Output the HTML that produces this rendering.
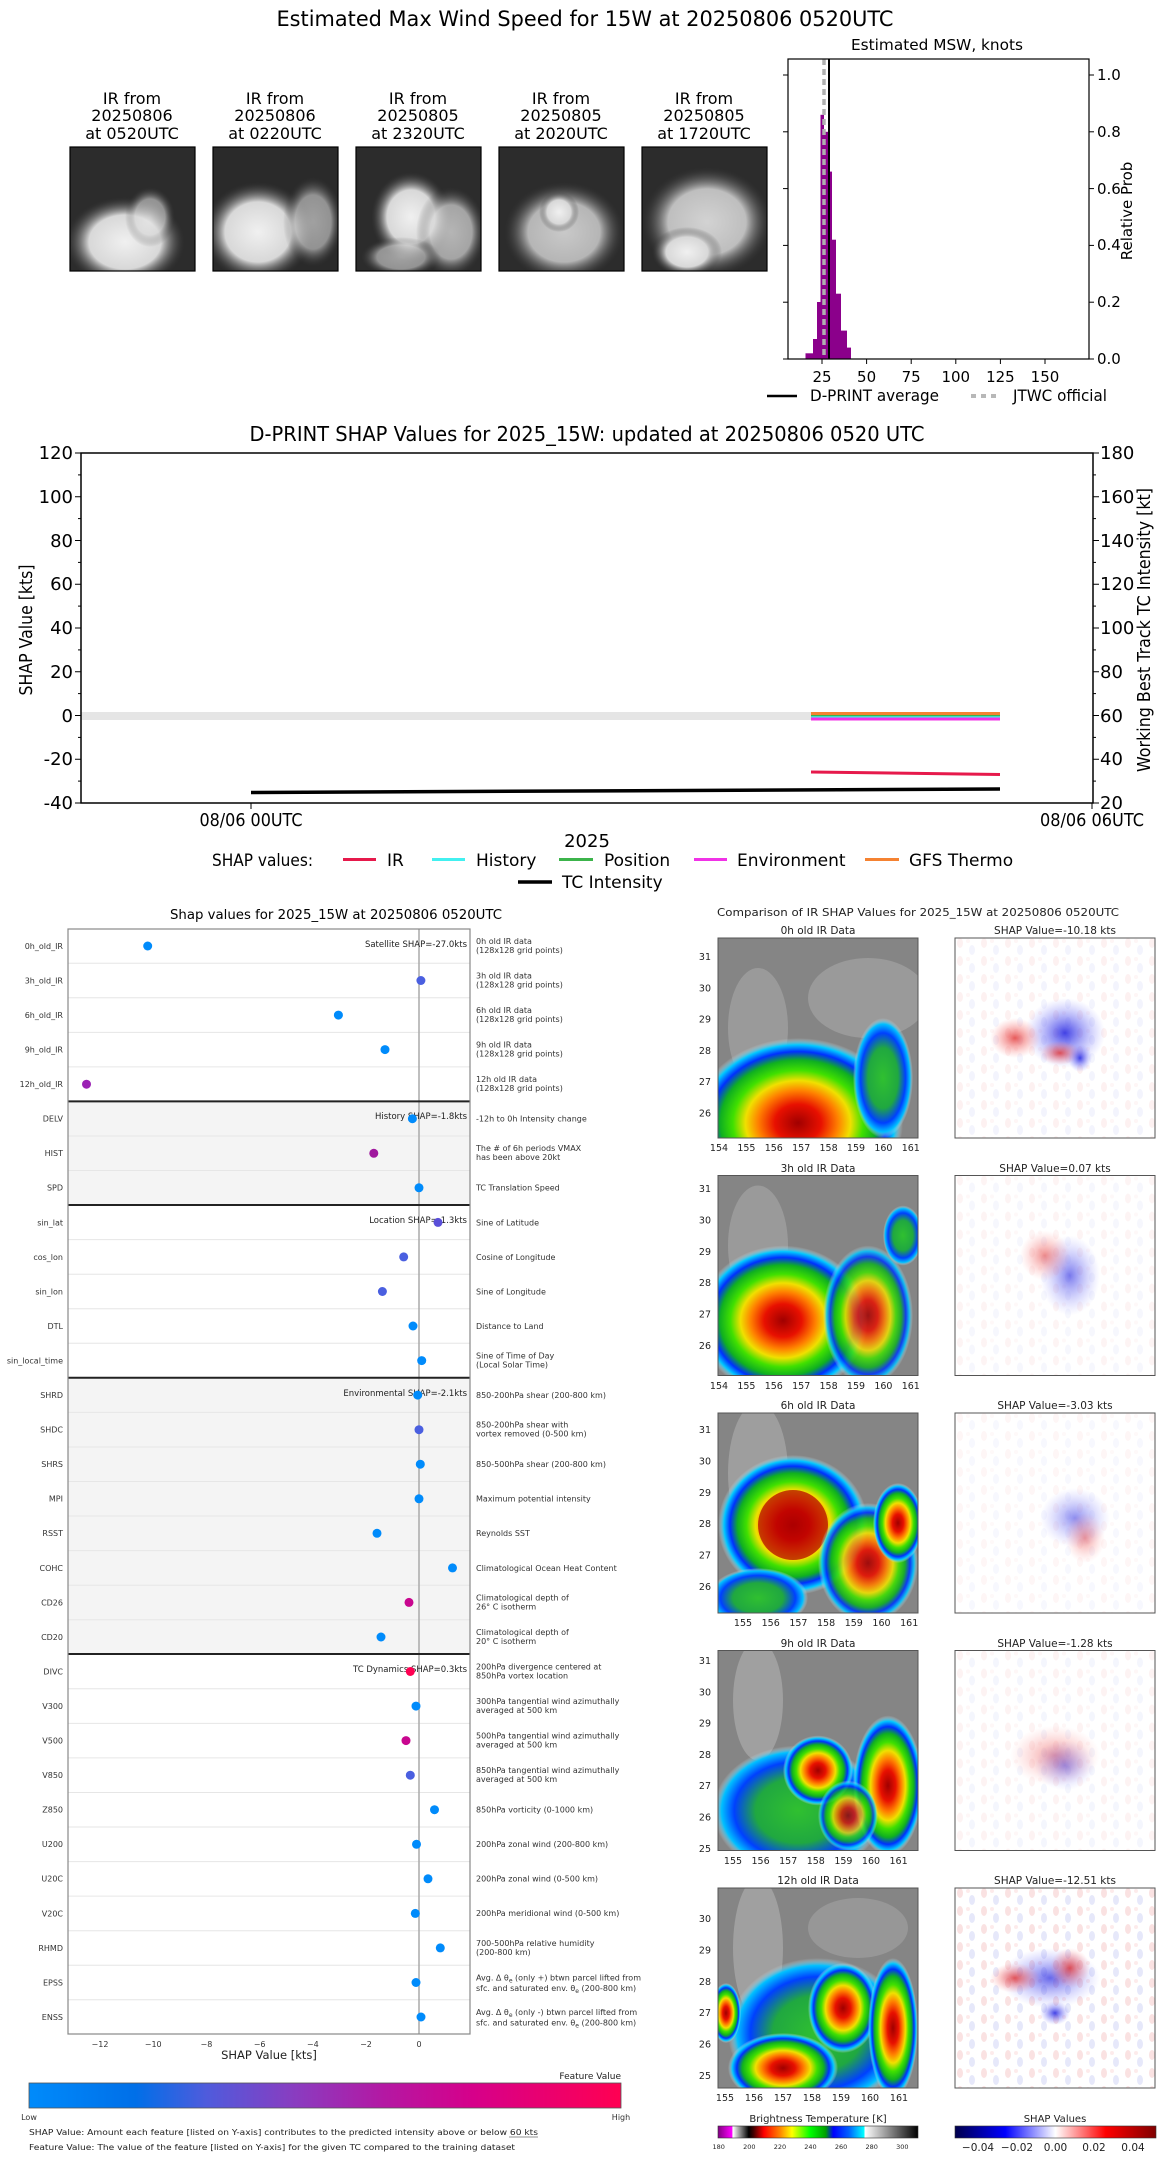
<!DOCTYPE html>
<html><head><meta charset="utf-8"><style>
html,body{margin:0;padding:0;background:#fff;}
svg{display:block;font-family:"DejaVu Sans","Liberation Sans",sans-serif;}
</style></head><body>
<svg width="1168" height="2158" viewBox="0 0 1168 2158" xmlns="http://www.w3.org/2000/svg">
<defs>
<radialGradient id="cl" cx="50%" cy="50%" r="50%">
<stop offset="0" stop-color="#a00000"/><stop offset="0.22" stop-color="#e81000"/><stop offset="0.38" stop-color="#ff8000"/><stop offset="0.5" stop-color="#f0e000"/><stop offset="0.62" stop-color="#40e000"/><stop offset="0.74" stop-color="#10b020"/><stop offset="0.84" stop-color="#0030ff"/><stop offset="0.92" stop-color="#00c8ff"/><stop offset="1" stop-color="#e0e0e0" stop-opacity="0"/>
</radialGradient>
<radialGradient id="clg" cx="50%" cy="50%" r="50%">
<stop offset="0" stop-color="#30c030"/><stop offset="0.5" stop-color="#20a840"/><stop offset="0.75" stop-color="#0040ff"/><stop offset="0.9" stop-color="#00c0ff"/><stop offset="1" stop-color="#e0e0e0" stop-opacity="0"/>
</radialGradient>
<radialGradient id="wt" cx="50%" cy="50%" r="50%">
<stop offset="0" stop-color="#f0f0f0"/><stop offset="0.6" stop-color="#d8d8d8"/><stop offset="1" stop-color="#3a3a3a" stop-opacity="0"/>
</radialGradient>
<radialGradient id="rd" cx="50%" cy="50%" r="50%"><stop offset="0" stop-color="#e03030" stop-opacity="0.8"/><stop offset="1" stop-color="#ff8080" stop-opacity="0"/></radialGradient>
<radialGradient id="bl" cx="50%" cy="50%" r="50%"><stop offset="0" stop-color="#2020e0" stop-opacity="0.85"/><stop offset="1" stop-color="#8080ff" stop-opacity="0"/></radialGradient>
<pattern id="nz" width="24" height="18" patternUnits="userSpaceOnUse">
<rect width="24" height="18" fill="#fff"/>
<ellipse cx="5" cy="5" rx="3" ry="5" fill="#f6c8c8"/><ellipse cx="17" cy="12" rx="3" ry="5" fill="#d0d4f6"/><ellipse cx="13" cy="3" rx="2" ry="2" fill="#fadada"/>
</pattern>
<linearGradient id="fv" x1="0" x2="1" y1="0" y2="0">
<stop offset="0" stop-color="#008bfb"/><stop offset="0.18" stop-color="#006fe8"/><stop offset="0.3" stop-color="#4f5bdc"/><stop offset="0.45" stop-color="#8a3cc0"/><stop offset="0.6" stop-color="#b418a3"/><stop offset="0.75" stop-color="#d6008a"/><stop offset="1" stop-color="#ff0052"/>
</linearGradient>
<linearGradient id="bt" x1="0" x2="1" y1="0" y2="0">
<stop offset="0" stop-color="#800080"/><stop offset="0.069" stop-color="#ff00ff"/><stop offset="0.075" stop-color="#ffffff"/><stop offset="0.154" stop-color="#000000"/><stop offset="0.177" stop-color="#400000"/><stop offset="0.23" stop-color="#ff0000"/><stop offset="0.308" stop-color="#ff8000"/><stop offset="0.37" stop-color="#ffff00"/><stop offset="0.46" stop-color="#00ff00"/><stop offset="0.538" stop-color="#00a000"/><stop offset="0.577" stop-color="#0000ff"/><stop offset="0.654" stop-color="#0060ff"/><stop offset="0.73" stop-color="#00ffff"/><stop offset="0.735" stop-color="#ffffff"/><stop offset="1" stop-color="#000000"/>
</linearGradient>
<linearGradient id="sw" x1="0" x2="1" y1="0" y2="0">
<stop offset="0" stop-color="#00004c"/><stop offset="0.25" stop-color="#0000ff"/><stop offset="0.5" stop-color="#ffffff"/><stop offset="0.75" stop-color="#ff0000"/><stop offset="1" stop-color="#800000"/>
</linearGradient>
<clipPath id="c200"><rect x="0" y="0" width="200" height="200"/></clipPath>
<clipPath id="cth"><rect x="0" y="0" width="125" height="124"/></clipPath>
</defs>

<text x="585" y="26" font-size="21" text-anchor="middle" textLength="617" lengthAdjust="spacingAndGlyphs">Estimated Max Wind Speed for 15W at 20250806 0520UTC</text>

<g font-size="16" text-anchor="middle">
<text x="132" y="104">IR from</text><text x="132" y="121">20250806</text><text x="132" y="139">at 0520UTC</text>
<text x="275" y="104">IR from</text><text x="275" y="121">20250806</text><text x="275" y="139">at 0220UTC</text>
<text x="418" y="104">IR from</text><text x="418" y="121">20250805</text><text x="418" y="139">at 2320UTC</text>
<text x="561" y="104">IR from</text><text x="561" y="121">20250805</text><text x="561" y="139">at 2020UTC</text>
<text x="704" y="104">IR from</text><text x="704" y="121">20250805</text><text x="704" y="139">at 1720UTC</text>
</g>
<g transform="translate(70,147)"><g clip-path="url(#cth)"><rect width="125" height="124" fill="#2c2c2c"/><ellipse cx="55" cy="95" rx="60" ry="45" fill="url(#wt)"/><ellipse cx="80" cy="70" rx="25" ry="30" fill="url(#wt)" opacity="0.6"/></g><rect width="125" height="124" fill="none" stroke="#000" stroke-width="1.2"/></g>
<g transform="translate(213,147)"><g clip-path="url(#cth)"><rect width="125" height="124" fill="#2a2a2a"/><ellipse cx="45" cy="85" rx="55" ry="50" fill="url(#wt)"/><ellipse cx="100" cy="75" rx="30" ry="45" fill="url(#wt)" opacity="0.6"/></g><rect width="125" height="124" fill="none" stroke="#000" stroke-width="1.2"/></g>
<g transform="translate(356,147)"><g clip-path="url(#cth)"><rect width="125" height="124" fill="#2c2c2c"/><ellipse cx="55" cy="70" rx="40" ry="45" fill="url(#wt)"/><ellipse cx="95" cy="85" rx="35" ry="45" fill="url(#wt)" opacity="0.7"/><ellipse cx="45" cy="110" rx="40" ry="20" fill="url(#wt)" opacity="0.6"/></g><rect width="125" height="124" fill="none" stroke="#000" stroke-width="1.2"/></g>
<g transform="translate(499,147)"><g clip-path="url(#cth)"><rect width="125" height="124" fill="#2c2c2c"/><ellipse cx="65" cy="85" rx="60" ry="50" fill="url(#wt)" opacity="0.8"/><ellipse cx="60" cy="65" rx="20" ry="20" fill="url(#wt)"/></g><rect width="125" height="124" fill="none" stroke="#000" stroke-width="1.2"/></g>
<g transform="translate(642,147)"><g clip-path="url(#cth)"><rect width="125" height="124" fill="#2c2c2c"/><ellipse cx="65" cy="75" rx="65" ry="55" fill="url(#wt)" opacity="0.85"/><ellipse cx="45" cy="105" rx="35" ry="25" fill="url(#wt)"/></g><rect width="125" height="124" fill="none" stroke="#000" stroke-width="1.2"/></g>

<text x="937" y="50" font-size="15" text-anchor="middle" textLength="172" lengthAdjust="spacingAndGlyphs">Estimated MSW, knots</text>
<g fill="#8b008b">
<rect x="805.5" y="353.3" width="7.5" height="5.7"/>
<rect x="813" y="339" width="4" height="20"/>
<rect x="817" y="302" width="3.5" height="57"/>
<rect x="820.5" y="114.8" width="3.5" height="244.2"/>
<rect x="824" y="131.8" width="4" height="227.2"/>
<rect x="828" y="171.6" width="4" height="187.4"/>
<rect x="832" y="239.7" width="4" height="119.3"/>
<rect x="836" y="293.7" width="5" height="65.3"/>
<rect x="841" y="330.6" width="6" height="28.4"/>
<rect x="847" y="347.6" width="4" height="11.4"/>
</g>
<line x1="824" y1="59" x2="824" y2="359" stroke="#b0b0b0" stroke-width="3.5" stroke-dasharray="6,4"/>
<line x1="829" y1="59" x2="829" y2="359" stroke="#000" stroke-width="2"/>
<rect x="788" y="59" width="301" height="300" fill="none" stroke="#000" stroke-width="1.2"/>
<g stroke="#000" stroke-width="1">
<line x1="783" y1="359" x2="788" y2="359"/><line x1="783" y1="302.2" x2="788" y2="302.2"/><line x1="783" y1="245.4" x2="788" y2="245.4"/><line x1="783" y1="188.6" x2="788" y2="188.6"/><line x1="783" y1="131.8" x2="788" y2="131.8"/><line x1="783" y1="75" x2="788" y2="75"/>
<line x1="1089" y1="359" x2="1094" y2="359"/><line x1="1089" y1="302.2" x2="1094" y2="302.2"/><line x1="1089" y1="245.4" x2="1094" y2="245.4"/><line x1="1089" y1="188.6" x2="1094" y2="188.6"/><line x1="1089" y1="131.8" x2="1094" y2="131.8"/><line x1="1089" y1="75" x2="1094" y2="75"/>
<line x1="822" y1="359" x2="822" y2="364"/><line x1="866.6" y1="359" x2="866.6" y2="364"/><line x1="911.2" y1="359" x2="911.2" y2="364"/><line x1="955.8" y1="359" x2="955.8" y2="364"/><line x1="1000.4" y1="359" x2="1000.4" y2="364"/><line x1="1045" y1="359" x2="1045" y2="364"/>
</g>
<g font-size="15">
<text x="1097" y="364">0.0</text><text x="1097" y="307">0.2</text><text x="1097" y="250">0.4</text><text x="1097" y="194">0.6</text><text x="1097" y="137">0.8</text><text x="1097" y="80">1.0</text>
</g>
<g font-size="15" text-anchor="middle">
<text x="822" y="382">25</text><text x="866.6" y="382">50</text><text x="911.2" y="382">75</text><text x="955.8" y="382">100</text><text x="1000.4" y="382">125</text><text x="1045" y="382">150</text>
</g>
<text transform="translate(1132,211) rotate(-90)" font-size="15" text-anchor="middle">Relative Prob</text>
<line x1="767" y1="396" x2="797" y2="396" stroke="#000" stroke-width="2.5"/>
<text x="810" y="401" font-size="16" textLength="129" lengthAdjust="spacingAndGlyphs">D-PRINT average</text>
<line x1="971" y1="396" x2="1001" y2="396" stroke="#b8b8b8" stroke-width="4" stroke-dasharray="5,5"/>
<text x="1013" y="401" font-size="16" textLength="94" lengthAdjust="spacingAndGlyphs">JTWC official</text>

<text x="587" y="441" font-size="20" text-anchor="middle" textLength="675" lengthAdjust="spacingAndGlyphs">D-PRINT SHAP Values for 2025_15W: updated at 20250806 0520 UTC</text>
<rect x="81" y="712" width="730" height="8" fill="#e5e5e5"/>
<line x1="811" y1="713.5" x2="1000" y2="713.5" stroke="#f58231" stroke-width="3"/>
<line x1="811" y1="716" x2="1000" y2="716" stroke="#3cb44b" stroke-width="2"/>
<line x1="811" y1="717" x2="1000" y2="717" stroke="#42f0f0" stroke-width="1.5"/>
<line x1="811" y1="719" x2="1000" y2="719" stroke="#f032e6" stroke-width="3"/>
<line x1="811" y1="772" x2="1000" y2="774.5" stroke="#e6194b" stroke-width="3"/>
<line x1="251" y1="792.5" x2="1000" y2="789" stroke="#000" stroke-width="3.5"/>
<rect x="81" y="453" width="1012" height="350" fill="none" stroke="#000" stroke-width="1.5"/>
<g stroke="#000" stroke-width="1">
<line x1="75" y1="453" x2="81" y2="453"/><line x1="75" y1="496.75" x2="81" y2="496.75"/><line x1="75" y1="540.5" x2="81" y2="540.5"/><line x1="75" y1="584.25" x2="81" y2="584.25"/><line x1="75" y1="628" x2="81" y2="628"/><line x1="75" y1="671.75" x2="81" y2="671.75"/><line x1="75" y1="715.5" x2="81" y2="715.5"/><line x1="75" y1="759.25" x2="81" y2="759.25"/><line x1="75" y1="803" x2="81" y2="803"/>
<line x1="78" y1="474.9" x2="81" y2="474.9"/><line x1="78" y1="518.6" x2="81" y2="518.6"/><line x1="78" y1="562.4" x2="81" y2="562.4"/><line x1="78" y1="606.1" x2="81" y2="606.1"/><line x1="78" y1="649.9" x2="81" y2="649.9"/><line x1="78" y1="693.6" x2="81" y2="693.6"/><line x1="78" y1="737.4" x2="81" y2="737.4"/><line x1="78" y1="781.1" x2="81" y2="781.1"/>
<line x1="1093" y1="453" x2="1099" y2="453"/><line x1="1093" y1="496.75" x2="1099" y2="496.75"/><line x1="1093" y1="540.5" x2="1099" y2="540.5"/><line x1="1093" y1="584.25" x2="1099" y2="584.25"/><line x1="1093" y1="628" x2="1099" y2="628"/><line x1="1093" y1="671.75" x2="1099" y2="671.75"/><line x1="1093" y1="715.5" x2="1099" y2="715.5"/><line x1="1093" y1="759.25" x2="1099" y2="759.25"/><line x1="1093" y1="803" x2="1099" y2="803"/>
<line x1="1093" y1="474.9" x2="1096" y2="474.9"/><line x1="1093" y1="518.6" x2="1096" y2="518.6"/><line x1="1093" y1="562.4" x2="1096" y2="562.4"/><line x1="1093" y1="606.1" x2="1096" y2="606.1"/><line x1="1093" y1="649.9" x2="1096" y2="649.9"/><line x1="1093" y1="693.6" x2="1096" y2="693.6"/><line x1="1093" y1="737.4" x2="1096" y2="737.4"/><line x1="1093" y1="781.1" x2="1096" y2="781.1"/>
<line x1="251" y1="803" x2="251" y2="809"/><line x1="1092" y1="803" x2="1092" y2="809"/>
</g>
<g font-size="18" text-anchor="end">
<text x="73" y="459">120</text><text x="73" y="503">100</text><text x="73" y="547">80</text><text x="73" y="590">60</text><text x="73" y="634">40</text><text x="73" y="678">20</text><text x="73" y="722">0</text><text x="73" y="765">-20</text><text x="73" y="809">-40</text>
</g>
<g font-size="18">
<text x="1100" y="459">180</text><text x="1100" y="503">160</text><text x="1100" y="547">140</text><text x="1100" y="590">120</text><text x="1100" y="634">100</text><text x="1100" y="678">80</text><text x="1100" y="722">60</text><text x="1100" y="765">40</text><text x="1100" y="809">20</text>
</g>
<text transform="translate(32,630) rotate(-90)" font-size="18" text-anchor="middle" textLength="131" lengthAdjust="spacingAndGlyphs">SHAP Value [kts]</text>
<text transform="translate(1150,630) rotate(-90)" font-size="18" text-anchor="middle" textLength="284" lengthAdjust="spacingAndGlyphs">Working Best Track TC Intensity [kt]</text>
<text x="251" y="826" font-size="18" text-anchor="middle" textLength="103" lengthAdjust="spacingAndGlyphs">08/06 00UTC</text>
<text x="1092" y="826" font-size="18" text-anchor="middle" textLength="104" lengthAdjust="spacingAndGlyphs">08/06 06UTC</text>
<text x="587" y="847" font-size="18" text-anchor="middle">2025</text>
<g font-size="17">
<text x="212" y="866" textLength="101" lengthAdjust="spacingAndGlyphs">SHAP values:</text>
<line x1="343" y1="859.5" x2="376" y2="859.5" stroke="#e6194b" stroke-width="3"/><text x="387" y="866">IR</text>
<line x1="432" y1="859.5" x2="465" y2="859.5" stroke="#42f0f0" stroke-width="3"/><text x="476" y="866">History</text>
<line x1="559" y1="859.5" x2="593" y2="859.5" stroke="#3cb44b" stroke-width="3"/><text x="604" y="866">Position</text>
<line x1="694" y1="859.5" x2="727" y2="859.5" stroke="#f032e6" stroke-width="3"/><text x="737" y="866">Environment</text>
<line x1="865" y1="859.5" x2="899" y2="859.5" stroke="#f58231" stroke-width="3"/><text x="909" y="866">GFS Thermo</text>
<line x1="518" y1="882" x2="552" y2="882" stroke="#000" stroke-width="3.5"/><text x="562" y="888">TC Intensity</text>
</g>

<text x="336" y="919" font-size="13" text-anchor="middle" textLength="332" lengthAdjust="spacingAndGlyphs">Shap values for 2025_15W at 20250806 0520UTC</text>
<rect x="68" y="1101.4" width="402" height="103.6" fill="#f4f4f4"/>
<rect x="68" y="1377.8" width="402" height="276.2" fill="#f4f4f4"/>
<g stroke="#e6e6e6" stroke-width="1">
<line x1="68" x2="470" y1="963.3" y2="963.3"/><line x1="68" x2="470" y1="997.8" y2="997.8"/><line x1="68" x2="470" y1="1032.4" y2="1032.4"/><line x1="68" x2="470" y1="1066.9" y2="1066.9"/>
<line x1="68" x2="470" y1="1136" y2="1136"/><line x1="68" x2="470" y1="1170.5" y2="1170.5"/>
<line x1="68" x2="470" y1="1239.6" y2="1239.6"/><line x1="68" x2="470" y1="1274.2" y2="1274.2"/><line x1="68" x2="470" y1="1308.7" y2="1308.7"/><line x1="68" x2="470" y1="1343.3" y2="1343.3"/>
<line x1="68" x2="470" y1="1412.4" y2="1412.4"/><line x1="68" x2="470" y1="1447" y2="1447"/><line x1="68" x2="470" y1="1481.5" y2="1481.5"/><line x1="68" x2="470" y1="1516" y2="1516"/><line x1="68" x2="470" y1="1550.6" y2="1550.6"/><line x1="68" x2="470" y1="1585.2" y2="1585.2"/><line x1="68" x2="470" y1="1619.7" y2="1619.7"/>
<line x1="68" x2="470" y1="1688.8" y2="1688.8"/><line x1="68" x2="470" y1="1723.4" y2="1723.4"/><line x1="68" x2="470" y1="1757.9" y2="1757.9"/><line x1="68" x2="470" y1="1792.5" y2="1792.5"/><line x1="68" x2="470" y1="1827" y2="1827"/><line x1="68" x2="470" y1="1861.6" y2="1861.6"/><line x1="68" x2="470" y1="1896.1" y2="1896.1"/><line x1="68" x2="470" y1="1930.7" y2="1930.7"/><line x1="68" x2="470" y1="1965.2" y2="1965.2"/><line x1="68" x2="470" y1="1999.8" y2="1999.8"/>
</g>
<line x1="419" y1="929" x2="419" y2="2034" stroke="#aaa" stroke-width="1.5"/>
<g stroke="#222" stroke-width="2">
<line x1="68" x2="470" y1="1101.4" y2="1101.4"/><line x1="68" x2="470" y1="1205" y2="1205"/><line x1="68" x2="470" y1="1377.8" y2="1377.8"/><line x1="68" x2="470" y1="1654" y2="1654"/>
</g>
<rect x="68" y="929" width="402" height="1105" fill="none" stroke="#888" stroke-width="1.2"/>
<g font-size="8.5" fill="#222" text-anchor="end">
<text x="467" y="947">Satellite SHAP=-27.0kts</text>
<text x="467" y="1119">History SHAP=-1.8kts</text>
<text x="467" y="1223">Location SHAP=-1.3kts</text>
<text x="467" y="1396">Environmental SHAP=-2.1kts</text>
<text x="467" y="1672">TC Dynamics SHAP=0.3kts</text>
</g>
<g>
<circle cx="147.7" cy="946" r="4.5" fill="#008bfb"/>
<circle cx="420.9" cy="980.5" r="4.5" fill="#4a5fe0"/>
<circle cx="338.4" cy="1015.1" r="4.5" fill="#008bfb"/>
<circle cx="385" cy="1049.6" r="4.5" fill="#008bfb"/>
<circle cx="86.5" cy="1084.2" r="4.5" fill="#9b22b4"/>
<circle cx="412.4" cy="1118.7" r="4.5" fill="#008bfb"/>
<circle cx="373.8" cy="1153.3" r="4.5" fill="#a0189e"/>
<circle cx="419" cy="1187.8" r="4.5" fill="#008bfb"/>
<circle cx="438" cy="1222.4" r="4.5" fill="#5a4fd9"/>
<circle cx="403.7" cy="1256.9" r="4.5" fill="#4a5fe0"/>
<circle cx="382.4" cy="1291.5" r="4.5" fill="#4a5fe0"/>
<circle cx="413" cy="1326" r="4.5" fill="#008bfb"/>
<circle cx="421.7" cy="1360.6" r="4.5" fill="#008bfb"/>
<circle cx="417.7" cy="1395.1" r="4.5" fill="#008bfb"/>
<circle cx="419" cy="1429.7" r="4.5" fill="#4a5fe0"/>
<circle cx="420.3" cy="1464.2" r="4.5" fill="#008bfb"/>
<circle cx="419" cy="1498.8" r="4.5" fill="#008bfb"/>
<circle cx="377" cy="1533.3" r="4.5" fill="#008bfb"/>
<circle cx="452.5" cy="1567.9" r="4.5" fill="#008bfb"/>
<circle cx="409" cy="1602.4" r="4.5" fill="#c8068f"/>
<circle cx="381" cy="1637" r="4.5" fill="#008bfb"/>
<circle cx="410.3" cy="1671.5" r="4.5" fill="#ff0052"/>
<circle cx="416" cy="1706.1" r="4.5" fill="#008bfb"/>
<circle cx="406" cy="1740.6" r="4.5" fill="#c8068f"/>
<circle cx="410.3" cy="1775.2" r="4.5" fill="#4a5fe0"/>
<circle cx="434.5" cy="1809.7" r="4.5" fill="#008bfb"/>
<circle cx="416.5" cy="1844.3" r="4.5" fill="#008bfb"/>
<circle cx="428" cy="1878.8" r="4.5" fill="#008bfb"/>
<circle cx="415.3" cy="1913.4" r="4.5" fill="#008bfb"/>
<circle cx="440.3" cy="1947.9" r="4.5" fill="#008bfb"/>
<circle cx="416" cy="1982.5" r="4.5" fill="#008bfb"/>
<circle cx="421" cy="2017" r="4.5" fill="#008bfb"/>
</g>
<g font-size="8" fill="#333" text-anchor="end">
<text x="63" y="949">0h_old_IR</text><text x="63" y="983.5">3h_old_IR</text><text x="63" y="1018">6h_old_IR</text><text x="63" y="1052.5">9h_old_IR</text><text x="63" y="1087">12h_old_IR</text>
<text x="63" y="1121.5">DELV</text><text x="63" y="1156">HIST</text><text x="63" y="1190.5">SPD</text>
<text x="63" y="1225.5">sin_lat</text><text x="63" y="1260">cos_lon</text><text x="63" y="1294.5">sin_lon</text><text x="63" y="1329">DTL</text><text x="63" y="1363.5">sin_local_time</text>
<text x="63" y="1398">SHRD</text><text x="63" y="1432.5">SHDC</text><text x="63" y="1467">SHRS</text><text x="63" y="1501.5">MPI</text><text x="63" y="1536">RSST</text><text x="63" y="1571">COHC</text><text x="63" y="1605.5">CD26</text><text x="63" y="1640">CD20</text>
<text x="63" y="1674.5">DIVC</text><text x="63" y="1709">V300</text><text x="63" y="1743.5">V500</text><text x="63" y="1778">V850</text><text x="63" y="1812.5">Z850</text><text x="63" y="1847">U200</text><text x="63" y="1881.5">U20C</text><text x="63" y="1916.5">V20C</text><text x="63" y="1951">RHMD</text><text x="63" y="1985.5">EPSS</text><text x="63" y="2020">ENSS</text>
</g>
<g font-size="8" fill="#333">
<text x="476" y="944">0h old IR data</text><text x="476" y="953">(128x128 grid points)</text>
<text x="476" y="978.5">3h old IR data</text><text x="476" y="987.5">(128x128 grid points)</text>
<text x="476" y="1013">6h old IR data</text><text x="476" y="1022">(128x128 grid points)</text>
<text x="476" y="1047.5">9h old IR data</text><text x="476" y="1056.5">(128x128 grid points)</text>
<text x="476" y="1082">12h old IR data</text><text x="476" y="1091">(128x128 grid points)</text>
<text x="476" y="1121.5">-12h to 0h Intensity change</text>
<text x="476" y="1151">The # of 6h periods VMAX</text><text x="476" y="1160">has been above 20kt</text>
<text x="476" y="1190.5">TC Translation Speed</text>
<text x="476" y="1225.5">Sine of Latitude</text>
<text x="476" y="1260">Cosine of Longitude</text>
<text x="476" y="1294.5">Sine of Longitude</text>
<text x="476" y="1329">Distance to Land</text>
<text x="476" y="1358.5">Sine of Time of Day</text><text x="476" y="1367.5">(Local Solar Time)</text>
<text x="476" y="1398">850-200hPa shear (200-800 km)</text>
<text x="476" y="1427.5">850-200hPa shear with</text><text x="476" y="1436.5">vortex removed (0-500 km)</text>
<text x="476" y="1467">850-500hPa shear (200-800 km)</text>
<text x="476" y="1501.5">Maximum potential intensity</text>
<text x="476" y="1536">Reynolds SST</text>
<text x="476" y="1571">Climatological Ocean Heat Content</text>
<text x="476" y="1600.5">Climatological depth of</text><text x="476" y="1609.5">26° C isotherm</text>
<text x="476" y="1635">Climatological depth of</text><text x="476" y="1644">20° C isotherm</text>
<text x="476" y="1669.5">200hPa divergence centered at</text><text x="476" y="1678.5">850hPa vortex location</text>
<text x="476" y="1704">300hPa tangential wind azimuthally</text><text x="476" y="1713">averaged at 500 km</text>
<text x="476" y="1738.5">500hPa tangential wind azimuthally</text><text x="476" y="1747.5">averaged at 500 km</text>
<text x="476" y="1773">850hPa tangential wind azimuthally</text><text x="476" y="1782">averaged at 500 km</text>
<text x="476" y="1812.5">850hPa vorticity (0-1000 km)</text>
<text x="476" y="1847">200hPa zonal wind (200-800 km)</text>
<text x="476" y="1881.5">200hPa zonal wind (0-500 km)</text>
<text x="476" y="1916">200hPa meridional wind (0-500 km)</text>
<text x="476" y="1946">700-500hPa relative humidity</text><text x="476" y="1955">(200-800 km)</text>
<text x="476" y="1980.5">Avg. Δ θ<tspan font-size="6" dy="2">e</tspan><tspan dy="-2"> (only +) btwn parcel lifted from</tspan></text><text x="476" y="1991">sfc. and saturated env. θ<tspan font-size="6" dy="2">e</tspan><tspan dy="-2"> (200-800 km)</tspan></text>
<text x="476" y="2015">Avg. Δ θ<tspan font-size="6" dy="2">e</tspan><tspan dy="-2"> (only -) btwn parcel lifted from</tspan></text><text x="476" y="2025.5">sfc. and saturated env. θ<tspan font-size="6" dy="2">e</tspan><tspan dy="-2"> (200-800 km)</tspan></text>
</g>
<g font-size="8" fill="#333" text-anchor="middle">
<text x="100" y="2047">−12</text><text x="153.2" y="2047">−10</text><text x="206.4" y="2047">−8</text><text x="259.6" y="2047">−6</text><text x="312.8" y="2047">−4</text><text x="366" y="2047">−2</text><text x="419" y="2047">0</text>
</g>
<text x="269" y="2059" font-size="11.5" fill="#222" text-anchor="middle">SHAP Value [kts]</text>
<text x="621" y="2079" font-size="9" fill="#222" text-anchor="end">Feature Value</text>
<rect x="29" y="2083" width="592" height="25" fill="url(#fv)" stroke="#555" stroke-width="0.8"/>
<text x="29" y="2120" font-size="8" fill="#333" text-anchor="middle">Low</text>
<text x="621" y="2120" font-size="8" fill="#333" text-anchor="middle">High</text>
<text x="29" y="2135" font-size="8" fill="#222" textLength="509" lengthAdjust="spacingAndGlyphs">SHAP Value: Amount each feature [listed on Y-axis] contributes to the predicted intensity above or below 60 kts</text>
<line x1="509" y1="2137" x2="538" y2="2137" stroke="#222" stroke-width="0.6"/>
<text x="29" y="2150" font-size="8" fill="#222" textLength="486" lengthAdjust="spacingAndGlyphs">Feature Value: The value of the feature [listed on Y-axis] for the given TC compared to the training dataset</text>

<text x="918" y="916" font-size="11" fill="#222" text-anchor="middle" textLength="402" lengthAdjust="spacingAndGlyphs">Comparison of IR SHAP Values for 2025_15W at 20250806 0520UTC</text>

<text x="818" y="934" font-size="10.5" text-anchor="middle" fill="#222">0h old IR Data</text>
<text x="1055" y="934" font-size="10.5" text-anchor="middle" fill="#222">SHAP Value=-10.18 kts</text>
<g transform="translate(718,938)"><g clip-path="url(#c200)">
<rect width="200" height="200" fill="#858585"/><ellipse cx="150" cy="60" rx="60" ry="40" fill="#9a9a9a"/><ellipse cx="40" cy="90" rx="30" ry="60" fill="#9a9a9a"/>
<ellipse cx="80" cy="185" rx="105" ry="85" fill="url(#cl)"/><ellipse cx="165" cy="140" rx="30" ry="60" fill="url(#clg)"/>
</g><rect width="200" height="200" fill="none" stroke="#555"/></g>
<g transform="translate(955,938)"><rect width="200" height="200" fill="url(#nz)" opacity="0.45"/><rect width="200" height="200" fill="#fff" opacity="0.45"/>
<ellipse cx="110" cy="95" rx="40" ry="35" fill="url(#bl)"/><ellipse cx="60" cy="100" rx="25" ry="20" fill="url(#rd)"/><ellipse cx="105" cy="115" rx="20" ry="12" fill="url(#rd)"/><ellipse cx="125" cy="120" rx="12" ry="14" fill="url(#bl)"/>
<rect width="200" height="200" fill="none" stroke="#555"/></g>

<text x="818" y="1172" font-size="10.5" text-anchor="middle" fill="#222">3h old IR Data</text>
<text x="1055" y="1172" font-size="10.5" text-anchor="middle" fill="#222">SHAP Value=0.07 kts</text>
<g transform="translate(718,1175.5)"><g clip-path="url(#c200)">
<rect width="200" height="200" fill="#858585"/><ellipse cx="40" cy="70" rx="30" ry="60" fill="#9a9a9a"/>
<ellipse cx="65" cy="145" rx="85" ry="75" fill="url(#cl)"/><ellipse cx="150" cy="140" rx="45" ry="70" fill="url(#cl)" opacity="0.85"/><ellipse cx="185" cy="60" rx="20" ry="30" fill="url(#clg)"/>
</g><rect width="200" height="200" fill="none" stroke="#555"/></g>
<g transform="translate(955,1175.5)"><rect width="200" height="200" fill="url(#nz)" opacity="0.4"/><rect width="200" height="200" fill="#fff" opacity="0.5"/>
<ellipse cx="115" cy="100" rx="30" ry="40" fill="url(#bl)" opacity="0.7"/><ellipse cx="90" cy="80" rx="25" ry="25" fill="url(#rd)" opacity="0.7"/>
<rect width="200" height="200" fill="none" stroke="#555"/></g>

<text x="818" y="1409" font-size="10.5" text-anchor="middle" fill="#222">6h old IR Data</text>
<text x="1055" y="1409" font-size="10.5" text-anchor="middle" fill="#222">SHAP Value=-3.03 kts</text>
<g transform="translate(718,1413)"><g clip-path="url(#c200)">
<rect width="200" height="200" fill="#858585"/><ellipse cx="40" cy="60" rx="30" ry="70" fill="#9e9e9e"/>
<ellipse cx="75" cy="112" rx="75" ry="70" fill="url(#cl)"/><ellipse cx="75" cy="112" rx="35" ry="35" fill="#b00000" opacity="0.7"/><ellipse cx="150" cy="150" rx="50" ry="60" fill="url(#cl)" opacity="0.9"/><ellipse cx="180" cy="110" rx="25" ry="40" fill="url(#cl)"/><ellipse cx="40" cy="185" rx="50" ry="30" fill="url(#clg)"/>
</g><rect width="200" height="200" fill="none" stroke="#555"/></g>
<g transform="translate(955,1413)"><rect width="200" height="200" fill="url(#nz)" opacity="0.35"/><rect width="200" height="200" fill="#fff" opacity="0.5"/>
<ellipse cx="120" cy="105" rx="35" ry="30" fill="url(#bl)" opacity="0.6"/><ellipse cx="130" cy="125" rx="20" ry="25" fill="url(#rd)" opacity="0.6"/>
<rect width="200" height="200" fill="none" stroke="#555"/></g>

<text x="818" y="1647" font-size="10.5" text-anchor="middle" fill="#222">9h old IR Data</text>
<text x="1055" y="1647" font-size="10.5" text-anchor="middle" fill="#222">SHAP Value=-1.28 kts</text>
<g transform="translate(718,1650.5)"><g clip-path="url(#c200)">
<rect width="200" height="200" fill="#858585"/><ellipse cx="40" cy="50" rx="25" ry="60" fill="#a0a0a0"/>
<ellipse cx="80" cy="160" rx="85" ry="65" fill="url(#clg)"/><ellipse cx="100" cy="120" rx="35" ry="35" fill="url(#cl)"/><ellipse cx="170" cy="135" rx="35" ry="70" fill="url(#cl)"/><ellipse cx="130" cy="165" rx="30" ry="35" fill="url(#cl)" opacity="0.8"/>
</g><rect width="200" height="200" fill="none" stroke="#555"/></g>
<g transform="translate(955,1650.5)"><rect width="200" height="200" fill="url(#nz)" opacity="0.4"/><rect width="200" height="200" fill="#fff" opacity="0.45"/>
<ellipse cx="100" cy="105" rx="45" ry="30" fill="url(#rd)" opacity="0.6"/><ellipse cx="110" cy="115" rx="30" ry="25" fill="url(#bl)" opacity="0.5"/>
<rect width="200" height="200" fill="none" stroke="#555"/></g>

<text x="818" y="1884" font-size="10.5" text-anchor="middle" fill="#222">12h old IR Data</text>
<text x="1055" y="1884" font-size="10.5" text-anchor="middle" fill="#222">SHAP Value=-12.51 kts</text>
<g transform="translate(718,1888)"><g clip-path="url(#c200)">
<rect width="200" height="200" fill="#858585"/><ellipse cx="40" cy="60" rx="25" ry="70" fill="#a0a0a0"/><ellipse cx="140" cy="40" rx="50" ry="30" fill="#979797"/>
<ellipse cx="100" cy="145" rx="90" ry="75" fill="url(#clg)"/><ellipse cx="125" cy="120" rx="35" ry="45" fill="url(#cl)"/><ellipse cx="65" cy="180" rx="55" ry="35" fill="url(#cl)"/><ellipse cx="175" cy="140" rx="25" ry="70" fill="url(#cl)"/><ellipse cx="8" cy="125" rx="15" ry="30" fill="url(#cl)"/>
</g><rect width="200" height="200" fill="none" stroke="#555"/></g>
<g transform="translate(955,1888)"><rect width="200" height="200" fill="url(#nz)" opacity="0.7"/><rect width="200" height="200" fill="#fff" opacity="0.25"/>
<ellipse cx="95" cy="90" rx="50" ry="30" fill="url(#bl)" opacity="0.8"/><ellipse cx="60" cy="90" rx="25" ry="15" fill="url(#rd)"/><ellipse cx="115" cy="80" rx="20" ry="20" fill="url(#rd)"/><ellipse cx="100" cy="125" rx="15" ry="12" fill="url(#bl)"/>
<rect width="200" height="200" fill="none" stroke="#555"/></g>

<g font-size="9.5" fill="#222" text-anchor="middle">
<text x="719" y="1151">154</text><text x="746.4" y="1151">155</text><text x="773.8" y="1151">156</text><text x="801.2" y="1151">157</text><text x="828.6" y="1151">158</text><text x="856" y="1151">159</text><text x="883.4" y="1151">160</text><text x="910.8" y="1151">161</text>
<text x="719" y="1389">154</text><text x="746.4" y="1389">155</text><text x="773.8" y="1389">156</text><text x="801.2" y="1389">157</text><text x="828.6" y="1389">158</text><text x="856" y="1389">159</text><text x="883.4" y="1389">160</text><text x="910.8" y="1389">161</text>
<text x="743" y="1626">155</text><text x="770.7" y="1626">156</text><text x="798.4" y="1626">157</text><text x="826.1" y="1626">158</text><text x="853.8" y="1626">159</text><text x="881.5" y="1626">160</text><text x="909.2" y="1626">161</text>
<text x="733" y="1864">155</text><text x="760.6" y="1864">156</text><text x="788.2" y="1864">157</text><text x="815.8" y="1864">158</text><text x="843.4" y="1864">159</text><text x="871" y="1864">160</text><text x="898.6" y="1864">161</text>
<text x="725" y="2101">155</text><text x="754" y="2101">156</text><text x="783" y="2101">157</text><text x="812" y="2101">158</text><text x="841" y="2101">159</text><text x="870" y="2101">160</text><text x="899" y="2101">161</text>
</g>
<g font-size="9.5" fill="#222" text-anchor="end">
<text x="711" y="960">31</text><text x="711" y="991.3">30</text><text x="711" y="1022.6">29</text><text x="711" y="1053.9">28</text><text x="711" y="1085.2">27</text><text x="711" y="1116.5">26</text>
<text x="711" y="1192">31</text><text x="711" y="1223.4">30</text><text x="711" y="1254.8">29</text><text x="711" y="1286.2">28</text><text x="711" y="1317.6">27</text><text x="711" y="1349">26</text>
<text x="711" y="1433">31</text><text x="711" y="1464.4">30</text><text x="711" y="1495.8">29</text><text x="711" y="1527.2">28</text><text x="711" y="1558.6">27</text><text x="711" y="1590">26</text>
<text x="711" y="1664">31</text><text x="711" y="1695.3">30</text><text x="711" y="1726.6">29</text><text x="711" y="1757.9">28</text><text x="711" y="1789.2">27</text><text x="711" y="1820.5">26</text><text x="711" y="1851.8">25</text>
<text x="711" y="1922">30</text><text x="711" y="1953.4">29</text><text x="711" y="1984.8">28</text><text x="711" y="2016.2">27</text><text x="711" y="2047.6">26</text><text x="711" y="2079">25</text>
</g>

<text x="818" y="2122" font-size="10" fill="#222" text-anchor="middle">Brightness Temperature [K]</text>
<rect x="718" y="2126" width="200" height="12" fill="url(#bt)" stroke="#333" stroke-width="0.6"/>
<g font-size="6.5" fill="#222" text-anchor="middle">
<text x="718.7" y="2149">180</text><text x="749.3" y="2149">200</text><text x="779.9" y="2149">220</text><text x="810.5" y="2149">240</text><text x="841.1" y="2149">260</text><text x="871.7" y="2149">280</text><text x="902.3" y="2149">300</text>
</g>
<text x="1055" y="2122" font-size="10" fill="#222" text-anchor="middle">SHAP Values</text>
<rect x="955" y="2126" width="201" height="12" fill="url(#sw)" stroke="#333" stroke-width="0.6"/>
<g font-size="10.5" fill="#222" text-anchor="middle">
<text x="978" y="2151">−0.04</text><text x="1017" y="2151">−0.02</text><text x="1055.5" y="2151">0.00</text><text x="1094" y="2151">0.02</text><text x="1133" y="2151">0.04</text>
</g>
</svg>
</body></html>
